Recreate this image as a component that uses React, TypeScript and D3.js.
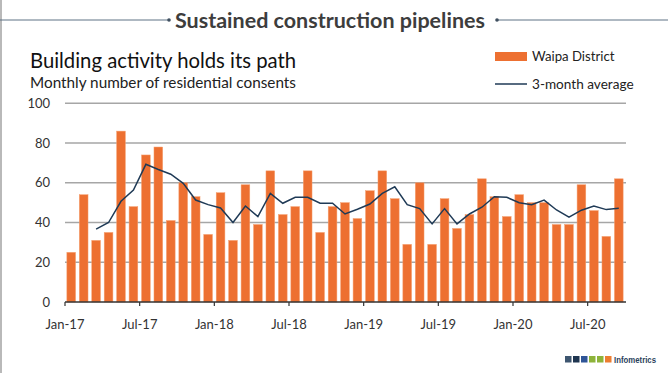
import React, { useEffect, useRef } from 'react';
import * as d3 from 'd3';

// monthly residential consents, Jan-17 .. Sep-20
const months = [
  'Jan-17','Feb-17','Mar-17','Apr-17','May-17','Jun-17','Jul-17','Aug-17','Sep-17','Oct-17','Nov-17','Dec-17',
  'Jan-18','Feb-18','Mar-18','Apr-18','May-18','Jun-18','Jul-18','Aug-18','Sep-18','Oct-18','Nov-18','Dec-18',
  'Jan-19','Feb-19','Mar-19','Apr-19','May-19','Jun-19','Jul-19','Aug-19','Sep-19','Oct-19','Nov-19','Dec-19',
  'Jan-20','Feb-20','Mar-20','Apr-20','May-20','Jun-20','Jul-20','Aug-20','Sep-20'
];
const consents = [
  25, 54, 31, 35, 86, 48, 74, 78, 41, 60, 53, 34,
  55, 31, 59, 39, 66, 44, 48, 66, 35, 48, 50, 42,
  56, 66, 52, 29, 60, 29, 52, 37, 44, 62, 53, 43,
  54, 50, 50, 39, 39, 59, 46, 33, 62
];
// 3-month average, starts at Mar-17
const avg3 = [
  null, null, 36.7, 40, 50.7, 56.3, 69.3, 66.7, 64.3, 59.7, 51.3, 49,
  47.3, 40, 48.3, 43, 54.7, 49.7, 52.7, 52.7, 49.7, 49.7, 44.3, 46.7,
  49.3, 54.7, 58, 49, 47, 39.3, 47, 39.3, 44.3, 47.7, 53, 52.7,
  50, 49, 51.3, 46.3, 42.7, 46.2, 48.3, 46.5, 47.2
];
const yTicks = [0, 20, 40, 60, 80, 100];
const xTickLabels = ['Jan-17', 'Jul-17', 'Jan-18', 'Jul-18', 'Jan-19', 'Jul-19', 'Jan-20', 'Jul-20'];
const logoColors = ['#3e5670', '#1f3550', '#2f5597', '#8db33a', '#8db33a', '#ed7d31'];

const W = 668;
const H = 373;

export default function App() {
  const ref = useRef<SVGSVGElement>(null);

  useEffect(() => {
    const svg = d3.select(ref.current);
    svg.selectAll('*').remove();

    const font = 'Lato, "Open Sans", sans-serif';
    const left = 65, right = 625, top = 103.3, bottom = 302;

    const x = d3.scaleBand<string>().domain(months).range([left, right])
      .paddingInner(0.3).paddingOuter(0.15);
    const y = d3.scaleLinear().domain([0, 100]).range([bottom, top]);

    svg.append('rect').attr('width', W).attr('height', H).attr('fill', '#fff');

    // frame
    svg.append('line').attr('x1', 1).attr('x2', 1).attr('y1', 0).attr('y2', H)
      .attr('stroke', '#8a8a8a').attr('stroke-width', 1.2);
    svg.append('line').attr('x1', 0).attr('x2', 168).attr('y1', 20).attr('y2', 20)
      .attr('stroke', '#5f7385').attr('stroke-width', 1);
    svg.append('line').attr('x1', 497).attr('x2', W).attr('y1', 20).attr('y2', 20)
      .attr('stroke', '#5f7385').attr('stroke-width', 1);
    [169, 497].forEach(cx => svg.append('circle').attr('cx', cx).attr('cy', 20).attr('r', 1.8).attr('fill', '#3f4f5f'));

    svg.append('text').attr('x', 330).attr('y', 27.5).attr('text-anchor', 'middle')
      .attr('font-family', font).attr('font-weight', 700).attr('font-size', 21.5)
      .attr('fill', '#3d3d3d').text('Sustained construction pipelines');

    svg.append('text').attr('x', 30).attr('y', 68).attr('font-family', font)
      .attr('font-size', 20.3).attr('fill', '#111').text('Building activity holds its path');
    svg.append('text').attr('x', 30).attr('y', 88).attr('font-family', font)
      .attr('font-size', 15.3).attr('fill', '#222').text('Monthly number of residential consents');

    // legend
    svg.append('rect').attr('x', 495).attr('y', 52).attr('width', 32).attr('height', 9).attr('fill', '#ed7031');
    svg.append('text').attr('x', 532).attr('y', 61).attr('font-family', font).attr('font-size', 13.2)
      .attr('fill', '#222').text('Waipa District');
    svg.append('line').attr('x1', 495).attr('x2', 527).attr('y1', 84).attr('y2', 84)
      .attr('stroke', '#1f3a56').attr('stroke-width', 1.5);
    svg.append('text').attr('x', 532).attr('y', 89).attr('font-family', font).attr('font-size', 13.6)
      .attr('fill', '#222').text('3-month average');

    // grid + y labels
    yTicks.forEach(t => {
      if (t > 0) {
        svg.append('line').attr('x1', left).attr('x2', right + 1).attr('y1', y(t)).attr('y2', y(t))
          .attr('stroke', '#a6a6a6').attr('stroke-width', 1.5);
      }
      svg.append('text').attr('x', 50).attr('y', y(t) + 4.5).attr('text-anchor', 'end')
        .attr('font-family', font).attr('font-size', 13).attr('fill', '#333').text(t);
    });

    // bars
    svg.append('g').selectAll('rect').data(months).join('rect')
      .attr('x', d => x(d)!)
      .attr('width', x.bandwidth())
      .attr('y', (d, i) => y(consents[i]))
      .attr('height', (d, i) => y(0) - y(consents[i]))
      .attr('fill', '#ed7031')
      .attr('stroke', '#f5a070').attr('stroke-width', 0.5);

    // axis
    svg.append('line').attr('x1', left).attr('x2', right + 1).attr('y1', bottom).attr('y2', bottom)
      .attr('stroke', '#333').attr('stroke-width', 1.5);
    const half = x.step() * x.paddingInner() / 2;
    xTickLabels.forEach(m => {
      const tx = x(m)! - half;
      svg.append('line').attr('x1', tx).attr('x2', tx).attr('y1', bottom).attr('y2', bottom + 4)
        .attr('stroke', '#333').attr('stroke-width', 1.2);
      svg.append('text').attr('x', tx).attr('y', 329).attr('text-anchor', 'middle')
        .attr('font-family', font).attr('font-size', 13).attr('fill', '#333').text(m);
    });

    // 3-month average line
    const line = d3.line<number | null>()
      .defined(d => d !== null)
      .x((d, i) => x(months[i])! + x.bandwidth() / 2)
      .y(d => y(d as number));
    svg.append('path').datum(avg3).attr('d', line)
      .attr('fill', 'none').attr('stroke', '#1f3a56').attr('stroke-width', 1.5);

    // logo
    logoColors.forEach((c, i) => {
      svg.append('rect').attr('x', 565 + i * 8).attr('y', 356).attr('width', 6.5).attr('height', 6.5).attr('fill', c);
    });
    svg.append('text').attr('x', 614).attr('y', 363).attr('font-family', '"Liberation Sans", sans-serif')
      .attr('font-weight', 700).attr('font-size', 9.5).attr('fill', '#2b3f5c')
      .attr('textLength', 42).attr('lengthAdjust', 'spacingAndGlyphs').text('Infometrics');
  }, []);

  return (
    <div style={{ position: 'fixed', left: 0, top: 0 }}>
      <svg ref={ref} width={W} height={H} style={{ display: 'block' }} />
    </div>
  );
}
